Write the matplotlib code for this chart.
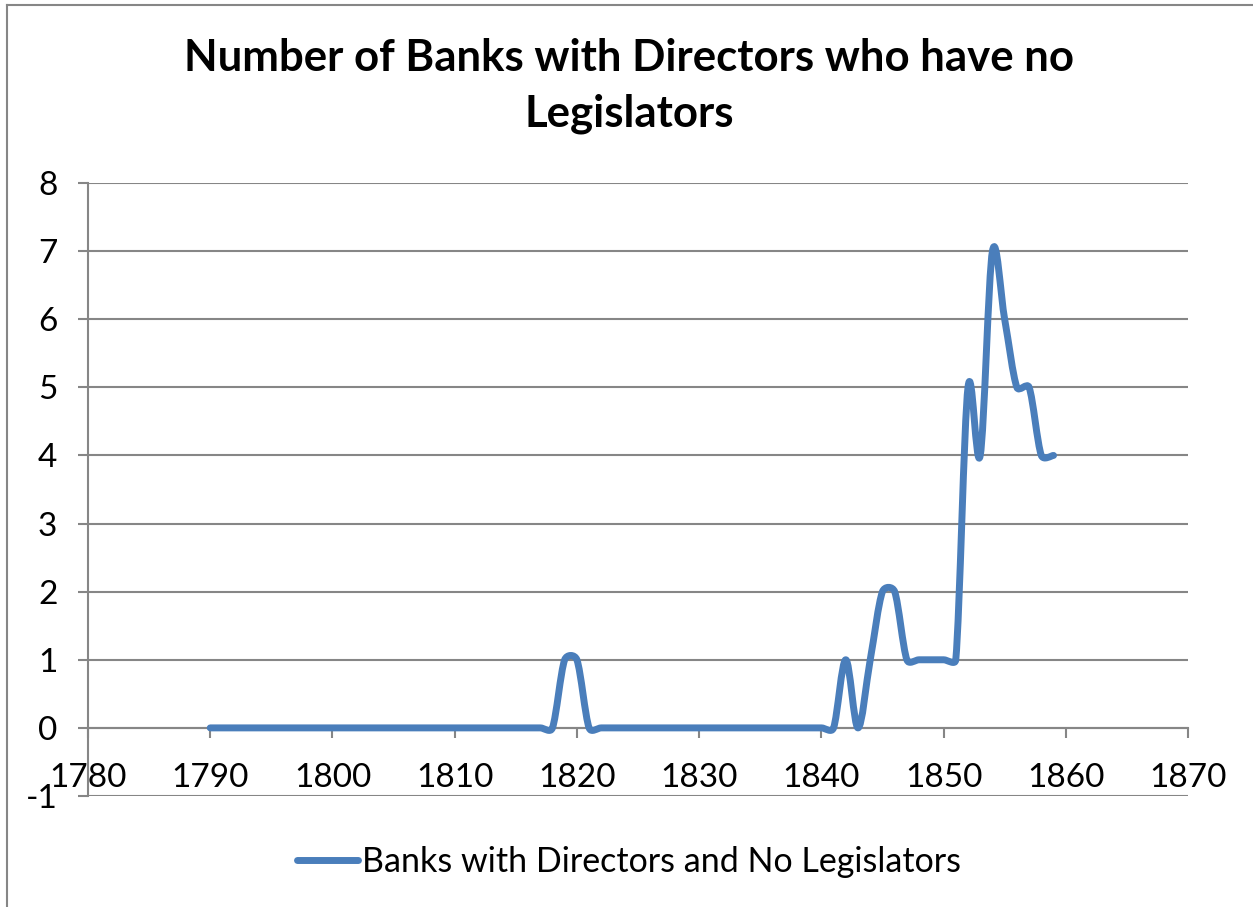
import matplotlib
matplotlib.use('Agg')
import matplotlib.pyplot as plt
import numpy as np
from matplotlib.path import Path
from matplotlib.patches import PathPatch
from matplotlib.lines import Line2D

plt.rcParams['font.family'] = ['Lato', 'DejaVu Sans']
plt.rcParams['axes.unicode_minus'] = False

years = list(range(1790, 1860))
banks = [0] * 29 + [1, 1] + [0] * 21 + [1, 0, 1, 2, 2, 1, 1, 1, 1, 1, 5, 4, 7, 6, 5, 5, 4, 4]
title = 'Number of Banks with Directors who have no\nLegislators'
series_name = 'Banks with Directors and No Legislators'
x_ticks = list(range(1780, 1871, 10))
y_ticks = list(range(-1, 9))

line_color = '#4A7EBB'
grid_color = '#868686'


def smooth_path(ax, xs, ys):
    # Excel-style smoothed line, bezier control points worked out in screen space
    pts = ax.transData.transform(np.column_stack([xs, ys]))
    n = len(pts)
    verts = [pts[0]]
    codes = [Path.MOVETO]
    for i in range(n - 1):
        p0 = pts[i - 1] if i > 0 else pts[i]
        p1, p2 = pts[i], pts[i + 1]
        p3 = pts[i + 2] if i + 2 < n else pts[i + 1]
        d02 = np.hypot(*(p2 - p0))
        d12 = np.hypot(*(p2 - p1))
        d13 = np.hypot(*(p3 - p1))
        f = 1 / 6 if d02 / 6 < d12 / 2 or d02 == 0 else d12 / (2 * d02)
        g = 1 / 6 if d13 / 6 < d12 / 2 or d13 == 0 else d12 / (2 * d13)
        verts += [p1 + f * (p2 - p0), p2 - g * (p3 - p1), p2]
        codes += [Path.CURVE4] * 3
    inv = ax.transData.inverted()
    return Path(inv.transform(np.array(verts)), codes)


fig = plt.figure(figsize=(12.53, 9.07), dpi=100)
ax = fig.add_axes([88 / 1253, 1 - 796 / 907, 1100 / 1253, 613 / 907])

ax.set_xlim(1780, 1870)
ax.set_ylim(-1, 8)
ax.set_xticks(x_ticks)
ax.set_yticks(y_ticks)
ax.yaxis.grid(True, color=grid_color, lw=1.5)
ax.set_axisbelow(True)

patch = PathPatch(smooth_path(ax, years, banks), facecolor='none', edgecolor=line_color,
                  lw=5, capstyle='round', joinstyle='round', zorder=3)
ax.add_patch(patch)

for s in ['top', 'right']:
    ax.spines[s].set_visible(False)
ax.spines['bottom'].set_position(('data', 0))
ax.spines['bottom'].set_color(grid_color)
ax.spines['bottom'].set_linewidth(1.5)
ax.spines['left'].set_color(grid_color)
ax.spines['left'].set_linewidth(1.5)

ax.tick_params(axis='y', direction='out', length=7, width=1.5, color=grid_color,
               labelsize=24, pad=15)
ax.tick_params(axis='x', direction='out', length=7, width=1.5, color=grid_color,
               labelsize=24, pad=18)

fig.text(0.502, 1 - 86 / 907, title, ha='center', va='center', fontsize=31.5,
         fontweight='bold', linespacing=1.45)

handle = Line2D([], [], color=line_color, lw=5, solid_capstyle='round')
fig.legend([handle], [series_name], loc='center', bbox_to_anchor=(0.502, 1 - 862 / 907),
           frameon=False, fontsize=24.5, handlelength=1.8, handletextpad=0.1)

# chart border (left and top only visible in reference)
fig.add_artist(Line2D([7 / 1253, 7 / 1253], [0, 1 - 5 / 907], color=grid_color, lw=1.5))
fig.add_artist(Line2D([7 / 1253, 1], [1 - 5 / 907, 1 - 5 / 907], color=grid_color, lw=1.5))

fig.savefig('out.png', dpi=100)
